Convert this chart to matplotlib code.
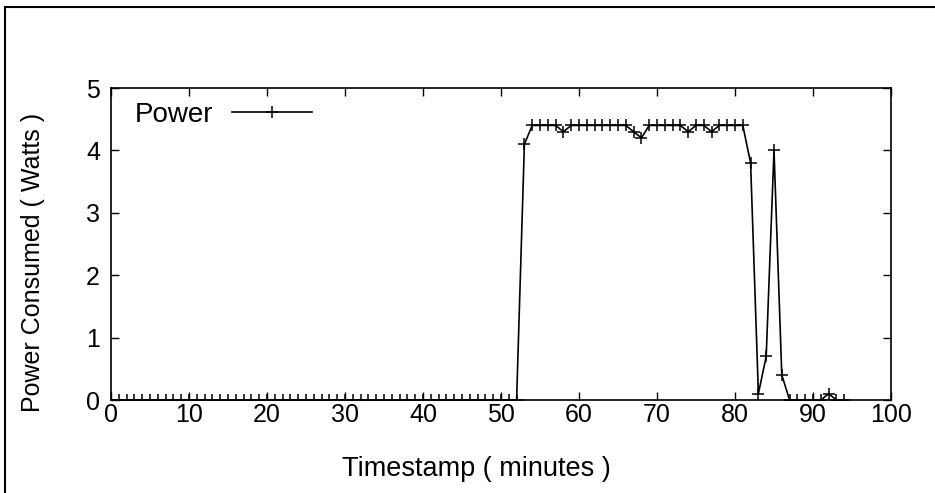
import numpy as np
import matplotlib
matplotlib.use("Agg")
import matplotlib.pyplot as plt
from matplotlib.patches import Rectangle

plt.rcParams['font.family'] = ['Liberation Sans', 'DejaVu Sans']

# timestamps (minutes) and power readings (Watts)
minutes = np.arange(0, 95)
power = [0, 0, 0, 0, 0, 0, 0, 0, 0, 0,
         0, 0, 0, 0, 0, 0, 0, 0, 0, 0,
         0, 0, 0, 0, 0, 0, 0, 0, 0, 0,
         0, 0, 0, 0, 0, 0, 0, 0, 0, 0,
         0, 0, 0, 0, 0, 0, 0, 0, 0, 0,
         0, 0, 0, 4.1, 4.4, 4.4, 4.4, 4.4, 4.3, 4.4,
         4.4, 4.4, 4.4, 4.4, 4.4, 4.4, 4.4, 4.3, 4.2, 4.4,
         4.4, 4.4, 4.4, 4.4, 4.3, 4.4, 4.4, 4.3, 4.4, 4.4,
         4.4, 4.4, 3.8, 0.1, 0.7, 4.0, 0.4, 0, 0, 0,
         0, 0, 0.1, 0, 0]

x_ticks = [0, 10, 20, 30, 40, 50, 60, 70, 80, 90, 100]
y_ticks = [0, 1, 2, 3, 4, 5]

fig = plt.figure(figsize=(9.35, 4.93), dpi=100)
ax = fig.add_axes([111/935, 93/493, 780/935, 312/493])

ax.plot(minutes, power, color='black', linewidth=1.2, marker='+',
        markersize=9, markeredgewidth=1.1, label='Power')

ax.set_xlim(0, 100)
ax.set_ylim(0, 5)
ax.set_xticks(x_ticks)
ax.set_yticks(y_ticks)
ax.tick_params(direction='in', length=6, width=1, top=True, right=True,
               labelsize=18, colors='black')
ax.tick_params(axis='x', pad=2)
ax.tick_params(axis='y', pad=8)
for s in ax.spines.values():
    s.set_linewidth(1.2)

ax.set_xlabel("Timestamp ( minutes )", fontsize=19.5)
ax.set_ylabel("Power Consumed ( Watts )", fontsize=18)
ax.xaxis.set_label_coords(0.469, -0.18)
ax.yaxis.set_label_coords(-0.085, 0.442)

leg = ax.legend(loc='center left', bbox_to_anchor=(0.031, 0.913), frameon=False,
                fontsize=20, markerfirst=False, handlelength=2.9,
                handletextpad=0.65, borderpad=0, borderaxespad=0)

# outer frame of the picture (only left and top visible)
fig.patches.append(Rectangle((5/935, -0.1), 1.2, (493-7)/493 + 0.1,
                             transform=fig.transFigure, fill=False,
                             edgecolor='black', linewidth=1.5, clip_on=False))

fig.savefig('out.png', dpi=100)
